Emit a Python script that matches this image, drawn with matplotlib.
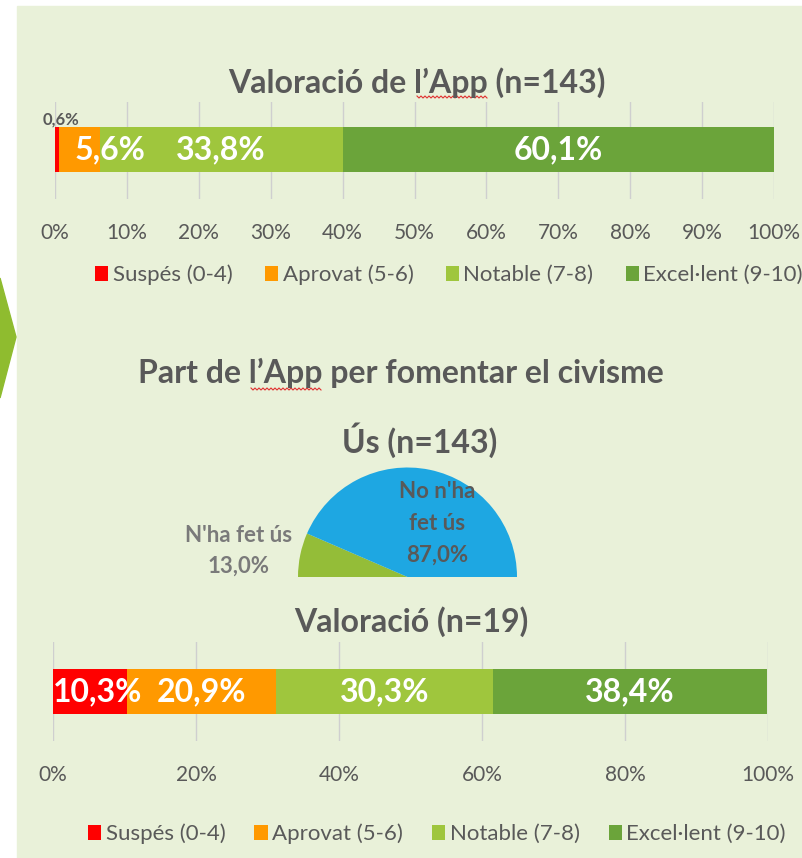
"""Valoració i ús de l'App: barres apilades al 100% i mig pastís."""

import matplotlib

matplotlib.use("Agg")
import matplotlib.pyplot as plt
import numpy as np
from matplotlib.patches import Polygon, Rectangle

plt.rcParams["font.family"] = ["Lato", "DejaVu Sans"]

# --- data -------------------------------------------------------------
categories = ["Suspés (0-4)", "Aprovat (5-6)", "Notable (7-8)", "Excel·lent (9-10)"]
app_values = [0.6, 5.6, 33.8, 60.1]          # Valoració de l'App (n=143)
civ_values = [10.3, 20.9, 30.3, 38.4]        # Valoració (n=19)
use_labels = ["N'ha fet ús", "No n'ha\nfet ús"]
use_values = [13.0, 87.0]                    # Ús (n=143)
top_ticks = [0, 10, 20, 30, 40, 50, 60, 70, 80, 90, 100]
bottom_ticks = [0, 20, 40, 60, 80, 100]

bar_colors = ["#FF0000", "#FF9900", "#9FC63D", "#6BA43A"]
pie_colors = ["#94BD38", "#1EA7E2"]
panel = "#E9F1D9"
gray = "#595959"

W, H = 803, 858
fig = plt.figure(figsize=(W / 100, H / 100), dpi=100)


def fx(x):
    return x / W


def fy(y):
    return 1 - y / H


def px_axes(x0, y0, x1, y1):
    return fig.add_axes([fx(x0), fy(y1), (x1 - x0) / W, (y1 - y0) / H])


def pct(v):
    return f"{v:.1f}%".replace(".", ",")


# background panel + arrow on the left
fig.patches.append(Rectangle((fx(17), 0), 1, fy(6), transform=fig.transFigure,
                             color=panel, zorder=-5))
fig.patches.append(Polygon([(fx(0), fy(278)), (fx(16), fy(337)), (fx(0), fy(398))],
                           closed=True, transform=fig.transFigure,
                           color="#8FBC2F", zorder=-5))


def stacked_bar(ax, values, ticks, bar_c, bar_h, label_pos):
    left = 0
    for v, c, cat in zip(values, bar_colors, categories):
        ax.barh([bar_c], [v], left=left, height=bar_h, color=c, label=cat,
                zorder=2)
        left += v
    starts = np.concatenate([[0], np.cumsum(values)[:-1]])
    for i, (v, s) in enumerate(zip(values, starts)):
        x, y, size, col = label_pos.get(i, (s + v / 2, bar_c, 23, "white"))
        ax.text(x, y, pct(v), ha="center", va="center", fontsize=size,
                fontweight="bold", color=col, zorder=3)
    ax.set_xlim(0, 100)
    ax.set_ylim(0, 1)
    ax.set_xticks(ticks)
    ax.set_xticklabels([f"{t}%" for t in ticks])
    ax.set_yticks([])
    ax.grid(axis="x", color="#CFCFCF", linewidth=1, zorder=0)
    ax.tick_params(axis="x", length=0, pad=17, labelsize=15, labelcolor=gray)
    for s in ax.spines.values():
        s.set_visible(False)
    ax.set_facecolor("none")


# --- top chart ----------------------------------------------------------
ax1 = px_axes(55, 102, 774, 199)
stacked_bar(ax1, app_values, top_ticks, 0.51, 0.47,
            {0: (0.9, 0.82, 12, gray), 1: (7.6, 0.51, 23, "white")})
fig.text(fx(417), fy(83), "Valoració de l’App (n=143)", ha="center", va="center",
         fontsize=23, fontweight="bold", color=gray)
h, l = ax1.get_legend_handles_labels()
fig.legend(h, l, loc="center", bbox_to_anchor=(fx(449), fy(275)), ncol=4,
           frameon=False, fontsize=16, labelcolor=gray, handlelength=0.6,
           handleheight=0.6, handletextpad=0.2, columnspacing=1.45)

# --- middle: half pie ---------------------------------------------------
fig.text(fx(401), fy(373), "Part de l’App per fomentar el civisme", ha="center",
         va="center", fontsize=23, fontweight="bold", color=gray)
fig.text(fx(420), fy(440), "Ús (n=143)", ha="center", va="center",
         fontsize=23, fontweight="bold", color=gray)

r = 109.5
ax2 = px_axes(407.5 - r, 577 - r, 407.5 + r, 577 + r)
pie_vals = use_values + [sum(use_values)]
wedges, _ = ax2.pie(pie_vals, colors=pie_colors + ["none"], startangle=180,
                    counterclock=False, radius=1)
ax2.set_xlim(-1, 1)
ax2.set_ylim(-1, 1)
ax2.set_aspect("equal")
ax2.axis("off")
ax2.text(-1.54, 0.24, f"{use_labels[0]}\n{pct(use_values[0])}", ha="center",
         va="center", fontsize=16, fontweight="bold", color="#7A7A7A",
         linespacing=1.6, clip_on=False)
ax2.text(0.27, 0.49, f"{use_labels[1]}\n{pct(use_values[1])}", ha="center",
         va="center", fontsize=16, fontweight="bold", color=gray,
         linespacing=1.65, clip_on=False)

# --- bottom chart -------------------------------------------------------
ax3 = px_axes(53, 642, 768, 741)
stacked_bar(ax3, civ_values, bottom_ticks, 0.50, 0.46,
            {0: (6.2, 0.50, 23, "white")})
fig.text(fx(411), fy(622), "Valoració (n=19)", ha="center", va="center",
         fontsize=23, fontweight="bold", color=gray)
h, l = ax3.get_legend_handles_labels()
fig.legend(h, l, loc="center", bbox_to_anchor=(fx(437), fy(834)), ncol=4,
           frameon=False, fontsize=16, labelcolor=gray, handlelength=0.6,
           handleheight=0.6, handletextpad=0.2, columnspacing=1.3)

# red spell-check squiggles under "App"
for x0, x1, y in [(417, 488, 97), (251, 322, 389)]:
    xs = np.arange(x0, x1 + 1, 2)
    ys = y + np.where(np.arange(len(xs)) % 2 == 0, -1, 1)
    fig.add_artist(plt.Line2D(fx(xs), fy(ys), color="#E03030", linewidth=0.8))

fig.savefig("out.png", dpi=100, facecolor="white")
